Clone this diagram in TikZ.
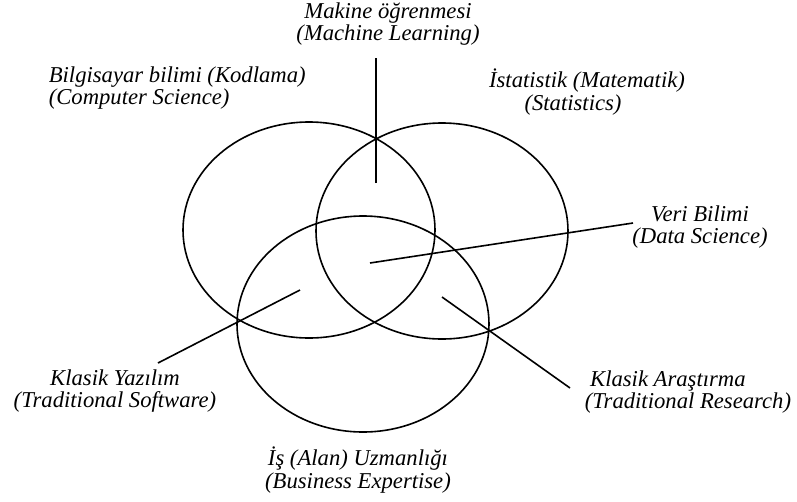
\documentclass[tikz,border=0pt]{standalone}
\usepackage{fontspec}
\setmainfont{Liberation Serif}
\usetikzlibrary{shapes.geometric}

\begin{document}
\begin{tikzpicture}[x=.75pt,y=-.75pt,line width=1.2pt,
    font=\fontsize{17}{17}\selectfont\itshape,
    venn/.style={draw,ellipse,minimum width=189pt,minimum height=162pt,inner sep=0pt},
    lbl/.style={align=center,inner sep=0pt}]
  \useasboundingbox (0,0) rectangle (797,501);
  % the three sets
  \node[venn] (cs) at (309,230) {};
  \node[venn] (st) at (442,231) {};
  \node[venn] (be) at (363,324) {};
  % labels
  \node[lbl] (mlLbl) at (388,24) {Makine öğrenmesi\\(Machine Learning)};
  \node[lbl,align=left,anchor=west] (csLbl) at (48,88) {Bilgisayar bilimi (Kodlama)\\(Computer Science)};
  \node[lbl] (stLbl) at (587,92) {İstatistik (Matematik)\\(Statistics)\hspace*{21pt}};
  \node[lbl] (dsLbl) at (700,227) {Veri Bilimi\\(Data Science)};
  \node[lbl] (tsLbl) at (115,391) {Klasik Yazılım\\(Traditional Software)};
  \node[lbl,align=left,anchor=west] (trLbl) at (584,392) {\hspace*{4pt}Klasik Araştırma\\(Traditional Research)};
  \node[lbl] (beLbl) at (358,470) {İş (Alan) Uzmanlığı\\(Business Expertise)};
  % pointer lines
  \coordinate (mlIn) at (376,183); \coordinate (mlOut) at (376,58);
  \coordinate (dsIn) at (370,263); \coordinate (dsOut) at (633,223);
  \coordinate (tsIn) at (300,290); \coordinate (tsOut) at (158,363);
  \coordinate (trIn) at (442,297); \coordinate (trOut) at (570,388);
  \draw (mlIn) -- (mlOut);
  \draw (dsIn) -- (dsOut);
  \draw (tsIn) -- (tsOut);
  \draw (trIn) -- (trOut);
\end{tikzpicture}
\end{document}
